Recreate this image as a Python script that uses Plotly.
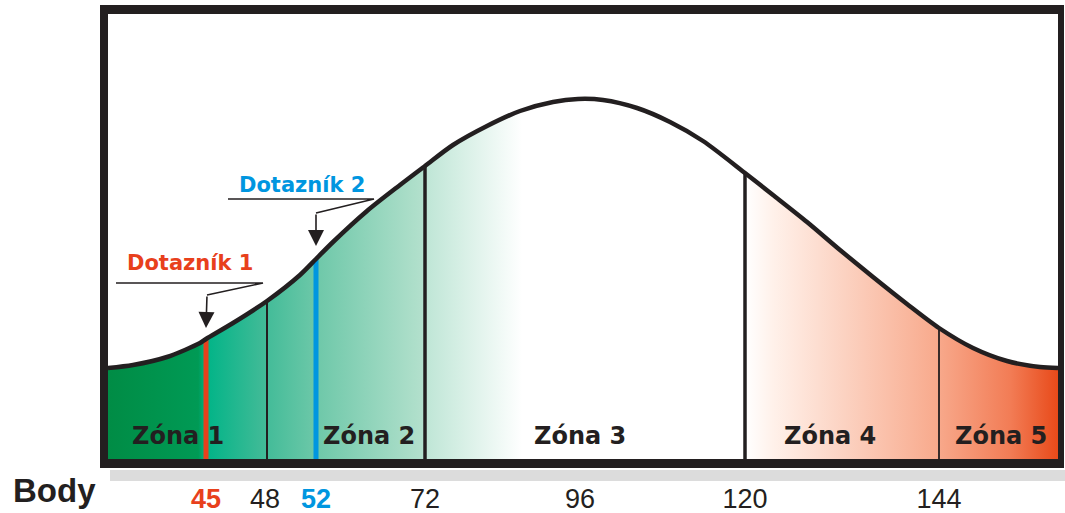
import plotly.graph_objects as go

# ---------------- data ----------------
# bell curve outline: horizontal position along the drawing's scale, height above baseline
curve_x = [0, 25, 59, 92, 98, 125, 159, 192, 208, 225, 259, 292, 317, 345, 379, 412, 445,
           470, 495, 529, 562, 595, 637, 665, 699, 732, 765, 799, 831, 865, 899, 932, 950]
curve_y = [91, 94, 102, 116, 120, 136, 158, 184, 200, 217, 248, 274, 293, 314, 333, 348, 357,
           360, 359, 351, 337, 318, 286, 264, 237, 209, 182, 155, 131, 111, 98, 92, 91]

# "Body" scale (tick labels and where they sit on the drawing's scale)
tick_labels = ["45", "48", "52", "72", "96", "120", "144"]
tick_pos = [98, 157, 208, 317, 472, 637, 831]

# zone boundaries (48, 72, 120, 144): position and height where they meet the curve
zone_bound_scores = [48, 72, 120, 144]
zone_bound_pos = [159, 317, 637, 831]
zone_bound_height = [158, 293, 286, 131]

zone_names = ["Zóna 1", "Zóna 2", "Zóna 3", "Zóna 4", "Zóna 5"]

# questionnaires
quest_names = ["Dotazník 1", "Dotazník 2"]
quest_scores = [45, 52]
quest_pos = [98, 208]
quest_height = [120, 200]

# ---------------- styling ----------------
INK = "#231f20"
RED = "#e8401c"
BLUE = "#0096e0"
quest_colors = [RED, BLUE]

W, H = 1065, 513
L, R, T, B = 108, 7, 14, 54
PW, PH = W - L - R, H - T - B


def px(x):
    return (x - L) / PW


def py(y):
    return (H - B - y) / PH


fig = go.Figure()

# gradient fill under the curve
fig.add_trace(go.Scatter(
    x=curve_x, y=curve_y, mode="lines", line=dict(width=0, shape="spline", smoothing=0.8),
    fill="tozeroy",
    fillgradient=dict(
        type="horizontal", start=0, stop=950,
        colorscale=[
            [0.0, "#008c45"], [0.095, "#009a55"], [0.103, "#00b487"],
            [0.16, "#3dba96"], [0.22, "#6ec8a9"], [0.33, "#b2e0cc"],
            [0.335, "#bfe6d6"], [0.436, "#ffffff"], [0.671, "#ffffff"],
            [0.70, "#fff1ea"], [0.87, "#f8ab8e"], [0.95, "#f27c55"], [1.0, "#e84a1a"],
        ]),
    hoverinfo="skip", showlegend=False))

# zone boundary lines
bound_widths = [2, 3.5, 3.5, 1.8]
for p, h, w in zip(zone_bound_pos, zone_bound_height, bound_widths):
    fig.add_trace(go.Scatter(x=[p, p], y=[0, h], mode="lines",
                             line=dict(color=INK, width=w), hoverinfo="skip", showlegend=False))

# questionnaire lines
for p, h, c in zip(quest_pos, quest_height, quest_colors):
    fig.add_trace(go.Scatter(x=[p, p], y=[0, h], mode="lines",
                             line=dict(color=c, width=5), hoverinfo="skip", showlegend=False))

# the curve itself
fig.add_trace(go.Scatter(
    x=curve_x, y=curve_y, mode="lines",
    line=dict(color=INK, width=4.5, shape="spline", smoothing=0.8),
    hoverinfo="skip", showlegend=False))

annotations = []
# zone labels
zone_label_x = [70, 261, 472, 722, 893]
for name, x in zip(zone_names, zone_label_x):
    annotations.append(dict(x=x, y=23, xref="x", yref="y", text="<b>" + name + "</b>",
                            showarrow=False,
                            font=dict(family="DejaVu Sans", size=24, color=INK),
                            xanchor="center", yanchor="middle"))

# questionnaire labels, leaders and arrows
label_xy = [(82, 196), (194, 274)]
leader_pts = [[(8, 176), (155, 176), (99, 164)], [(120, 260), (266, 260), (208, 246)]]
tips = [131, 213]
shapes = []
for name, c, (lx, ly), pts, p, tip in zip(quest_names, quest_colors, label_xy, leader_pts, quest_pos, tips):
    annotations.append(dict(x=lx, y=ly, xref="x", yref="y", text="<b>" + name + "</b>",
                            showarrow=False, font=dict(family="DejaVu Sans", size=21, color=c),
                            xanchor="center", yanchor="middle"))
    path = "M " + " L ".join(f"{x},{y}" for x, y in pts)
    shapes.append(dict(type="path", path=path, xref="x", yref="y",
                       line=dict(color=INK, width=1.6)))
    annotations.append(dict(x=p, y=tip, ax=pts[-1][0], ay=pts[-1][1], xref="x", yref="y",
                            axref="x", ayref="y", text="", showarrow=True, arrowhead=2,
                            arrowsize=2.0, arrowwidth=1.6, arrowcolor=INK, standoff=0))

# "Body" caption
annotations.append(dict(x=px(54), y=py(490), xref="paper", yref="paper", text="<b>Body</b>",
                        showarrow=False, font=dict(family="Liberation Sans", size=33, color=INK),
                        xanchor="center", yanchor="middle"))


# frame and shadow
def rect(x0, y0, x1, y1, color):
    return dict(type="rect", xref="paper", yref="paper", x0=px(x0), x1=px(x1),
                y0=py(y1), y1=py(y0), fillcolor=color, line=dict(width=0), layer="above")


shapes += [
    rect(110, 470, 1065, 481, "#dcdcdc"),
    rect(100, 5, 1064, 14, INK),
    rect(100, 5, 108, 468, INK),
    rect(1058, 5, 1064, 468, INK),
    rect(100, 459, 1064, 468, INK),
]

tick_text = []
for lab in tick_labels:
    if lab == str(quest_scores[0]):
        tick_text.append(f'<span style="color:{RED}"><b>{lab}</b></span>')
    elif lab == str(quest_scores[1]):
        tick_text.append(f'<span style="color:{BLUE}"><b>{lab}</b></span>')
    else:
        tick_text.append(lab)

fig.update_layout(
    width=W, height=H, margin=dict(l=L, r=R, t=T, b=B, pad=0, autoexpand=False),
    paper_bgcolor="white", plot_bgcolor="white",
    xaxis=dict(range=[0, 950], showgrid=False, zeroline=False, showline=False,
               automargin=False,
               tickmode="array", tickvals=tick_pos, ticktext=tick_text, ticks="",
               ticklabelstandoff=21,
               tickfont=dict(family="Liberation Sans", size=27, color=INK), fixedrange=True),
    yaxis=dict(range=[0, 445], showgrid=False, zeroline=False, showline=False,
               automargin=False, showticklabels=False, fixedrange=True),
    shapes=shapes, annotations=annotations, showlegend=False,
)

fig.write_html("out.html", config={"displayModeBar": False},
               post_script="document.body.style.margin='0';document.body.style.overflow='hidden';")
